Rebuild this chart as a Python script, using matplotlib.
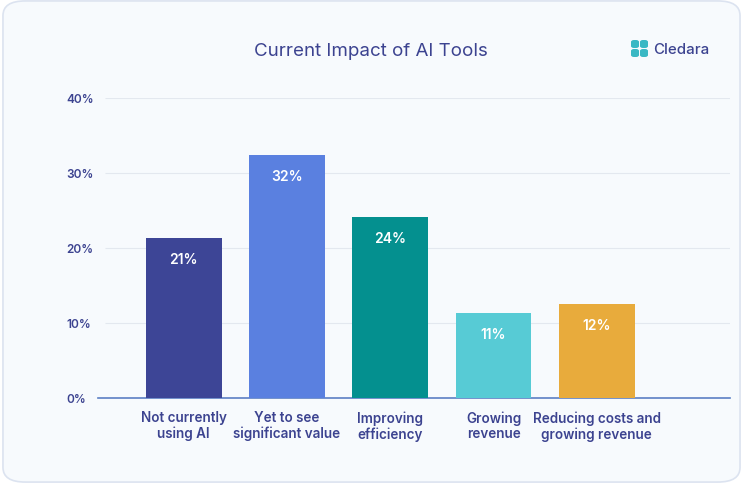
import matplotlib
matplotlib.use("Agg")
import matplotlib.pyplot as plt
from matplotlib.patches import FancyBboxPatch

plt.rcParams['font.family'] = ['Inter', 'DejaVu Sans']

# data
categories = ['Not currently\nusing AI', 'Yet to see\nsignificant value', 'Improving\nefficiency',
              'Growing\nrevenue', 'Reducing costs and\ngrowing revenue']
values = [21.3, 32.4, 24.1, 11.3, 12.5]
valueLabels = ['21%', '32%', '24%', '11%', '12%']
colors = ['#3d4596', '#5a80e0', '#04908f', '#57cbd5', '#e8ab3c']
yTicks = [0, 10, 20, 30, 40]

textColor = '#3c4390'

fig = plt.figure(figsize=(7.43, 4.85), dpi=100)
fig.patch.set_facecolor('white')

# rounded card background
card = FancyBboxPatch((0.004, 0.004), 0.992, 0.992, boxstyle='round,pad=0,rounding_size=0.03',
                      transform=fig.transFigure, facecolor='#f7fafd', edgecolor='#dce3f0',
                      linewidth=1.2, zorder=-10)
fig.patches.append(card)

ax = fig.add_axes([98/743, 86/485, (730-98)/743, 300/485])
ax.set_facecolor('none')

x = range(len(categories))
bars = ax.bar(x, values, width=0.735, color=colors, zorder=3)

for i, b in enumerate(bars):
    ax.text(b.get_x() + b.get_width()/2, values[i] - 2.8, valueLabels[i], ha='center', va='center',
            color='white', fontsize=10, fontweight='semibold', zorder=4)

ax.set_xlim(-0.83, 5.29)
ax.set_ylim(0, 40)
ax.set_yticks(yTicks)
ax.set_yticklabels([f'{t}%' for t in yTicks])
ax.set_xticks(list(x))
ax.set_xticklabels(categories)

for s in ['top', 'right', 'left']:
    ax.spines[s].set_visible(False)
ax.spines['bottom'].set_color('#5b7fc4')
ax.spines['bottom'].set_linewidth(1.2)

# gridlines start a little right of the axis line
ax.hlines(yTicks[1:], -0.76, 5.29, color='#e3e8ef', linewidth=0.8, zorder=0)

ax.tick_params(axis='both', length=0)
ax.tick_params(axis='y', pad=23, labelsize=8.5, labelcolor=textColor)
ax.tick_params(axis='x', pad=9, labelsize=9.7, labelcolor=textColor)
for lbl in ax.get_yticklabels():
    lbl.set_fontweight('semibold')
    lbl.set_horizontalalignment('left')
for lbl in ax.get_xticklabels():
    lbl.set_fontweight('semibold')
    lbl.set_linespacing(1.1)

fig.text(371/743, 1 - 51/485, 'Current Impact of AI Tools', ha='center', va='center',
         fontsize=13.5, color=textColor)

# logo
logoColor = '#3ab8c4'
for (lx, ly) in [(631, 41), (640, 41), (631, 50), (640, 50)]:
    fig.patches.append(FancyBboxPatch((lx/743, 1 - (ly + 8)/485), 8/743, 8/485,
                                      boxstyle='round,pad=0,rounding_size=0.004',
                                      transform=fig.transFigure, facecolor=logoColor, edgecolor='none'))
fig.text(653/743, 1 - 50/485, 'Cledara', ha='left', va='center', fontsize=10.8,
         fontweight='medium', color=textColor)

fig.savefig('out.png', dpi=100, facecolor=fig.get_facecolor())
